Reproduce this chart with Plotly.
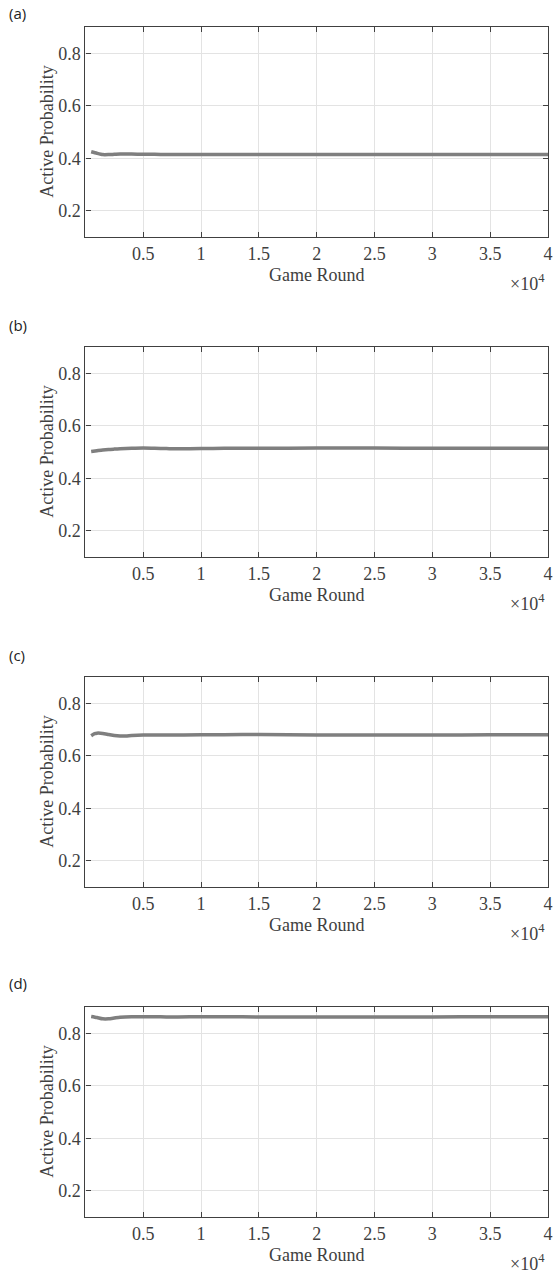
import plotly.graph_objects as go

# ---- data ----
rounds_a = [500, 1000, 1500, 2000, 2500, 3000, 4000, 5000, 6000, 7000, 8000, 10000, 12000, 15000, 20000, 25000, 30000, 35000, 40000]
prob_a = [0.425, 0.419, 0.414, 0.414, 0.415, 0.416, 0.416, 0.415, 0.415, 0.414, 0.414, 0.414, 0.414, 0.414, 0.414, 0.414, 0.414, 0.414, 0.414]

rounds_b = [500, 1000, 1500, 2000, 2500, 3000, 4000, 5000, 6000, 7000, 8000, 10000, 12000, 15000, 20000, 25000, 30000, 35000, 40000]
prob_b = [0.502, 0.505, 0.508, 0.510, 0.511, 0.512, 0.514, 0.515, 0.514, 0.513, 0.512, 0.513, 0.514, 0.514, 0.515, 0.515, 0.514, 0.514, 0.514]

rounds_c = [500, 800, 1000, 1500, 2000, 2500, 3000, 3500, 4000, 5000, 7000, 10000, 12000, 15000, 20000, 25000, 30000, 35000, 40000]
prob_c = [0.676, 0.684, 0.686, 0.685, 0.681, 0.677, 0.675, 0.675, 0.677, 0.679, 0.679, 0.680, 0.680, 0.681, 0.679, 0.679, 0.679, 0.680, 0.680]

rounds_d = [500, 1000, 1500, 2000, 2500, 3000, 4000, 5000, 6000, 7000, 8000, 10000, 12000, 15000, 20000, 25000, 30000, 35000, 40000]
prob_d = [0.864, 0.860, 0.855, 0.855, 0.858, 0.861, 0.863, 0.863, 0.863, 0.862, 0.862, 0.863, 0.863, 0.862, 0.862, 0.862, 0.862, 0.863, 0.863]

panel_labels = ["(a)", "(b)", "(c)", "(d)"]
x_tickvals = [5000, 10000, 15000, 20000, 25000, 30000, 35000, 40000]
x_ticktext = ["0.5", "1", "1.5", "2", "2.5", "3", "3.5", "4"]
y_tickvals = [0.2, 0.4, 0.6, 0.8]
y_ticktext = ["0.2", "0.4", "0.6", "0.8"]
x_title = "Game Round"
y_title = "Active Probability"
x_exponent = "×10<sup>4</sup>"

series = [(rounds_a, prob_a), (rounds_b, prob_b), (rounds_c, prob_c), (rounds_d, prob_d)]

# ---- layout geometry (pixels) ----
W, H = 555, 1273
left, right = 86, 552
tops = [27, 347, 677, 1007]
ph = 210
label_y = [13, 325, 655, 983]

serif = "Liberation Serif, Times New Roman, serif"
txt_col = "#404040"
line_col = "#404040"

fig = go.Figure()
layout = dict(
    width=W, height=H,
    margin=dict(l=0, r=0, t=0, b=0),
    paper_bgcolor="white", plot_bgcolor="white",
    showlegend=False,
    font=dict(family=serif, size=18, color=txt_col),
)
annotations = []

for i, (xs, ys) in enumerate(series):
    n = "" if i == 0 else str(i + 1)
    xa = "x" + n
    ya = "y" + n
    fig.add_trace(go.Scatter(x=xs, y=ys, mode="lines", xaxis=xa, yaxis=ya,
                             line=dict(color="#7f7f7f", width=3.5, shape="spline", smoothing=0.6),
                             hoverinfo="skip"))
    top = tops[i]
    bot = top + ph
    layout["xaxis" + n] = dict(
        domain=[left / W, right / W], anchor=ya, range=[-1, 40001],
        tickmode="array", tickvals=x_tickvals, ticktext=x_ticktext,
        ticks="inside", ticklen=5, tickcolor=line_col, tickwidth=1,
        showline=True, linecolor=line_col, linewidth=1.3, mirror="ticks",
        showgrid=True, gridcolor="#e3e3e3", gridwidth=1, zeroline=False,
        ticklabeloverflow="allow",
        tickfont=dict(family=serif, size=18, color=txt_col),
    )
    layout["yaxis" + n] = dict(
        domain=[1 - bot / H, 1 - top / H], anchor=xa, range=[0.1, 0.9],
        tickmode="array", tickvals=y_tickvals, ticktext=y_ticktext,
        ticks="inside", ticklen=5, tickcolor=line_col, tickwidth=1,
        showline=True, linecolor=line_col, linewidth=1.3, mirror="ticks",
        showgrid=True, gridcolor="#e3e3e3", gridwidth=1, zeroline=False,
        tickfont=dict(family=serif, size=18, color=txt_col),
    )
    # x title
    annotations.append(dict(text=x_title, xref="paper", yref="paper",
                            x=(left + right) / 2 / W, y=1 - (bot + 38) / H,
                            xanchor="center", yanchor="middle", showarrow=False,
                            font=dict(family=serif, size=18, color=txt_col)))
    # exponent
    annotations.append(dict(text=x_exponent, xref="paper", yref="paper",
                            x=551 / W, y=1 - (bot + 45) / H,
                            xanchor="right", yanchor="middle", showarrow=False,
                            font=dict(family=serif, size=18, color=txt_col)))
    # y title
    annotations.append(dict(text=y_title, xref="paper", yref="paper",
                            x=47 / W, y=1 - (top + ph / 2) / H, textangle=-90,
                            xanchor="center", yanchor="middle", showarrow=False,
                            font=dict(family=serif, size=18, color=txt_col)))
    # panel label
    annotations.append(dict(text=panel_labels[i], xref="paper", yref="paper",
                            x=7 / W, y=1 - label_y[i] / H,
                            xanchor="left", yanchor="middle", showarrow=False,
                            font=dict(family="Open Sans, Noto Sans, sans-serif", size=15, color="#222222")))

layout["annotations"] = annotations
fig.update_layout(**layout)
fig.write_html("out.html", config={"displayModeBar": False},
               post_script="document.body.style.margin='0';document.body.style.padding='0';"
                           "document.body.style.overflow='hidden';"
                           "document.documentElement.style.overflow='hidden';")
